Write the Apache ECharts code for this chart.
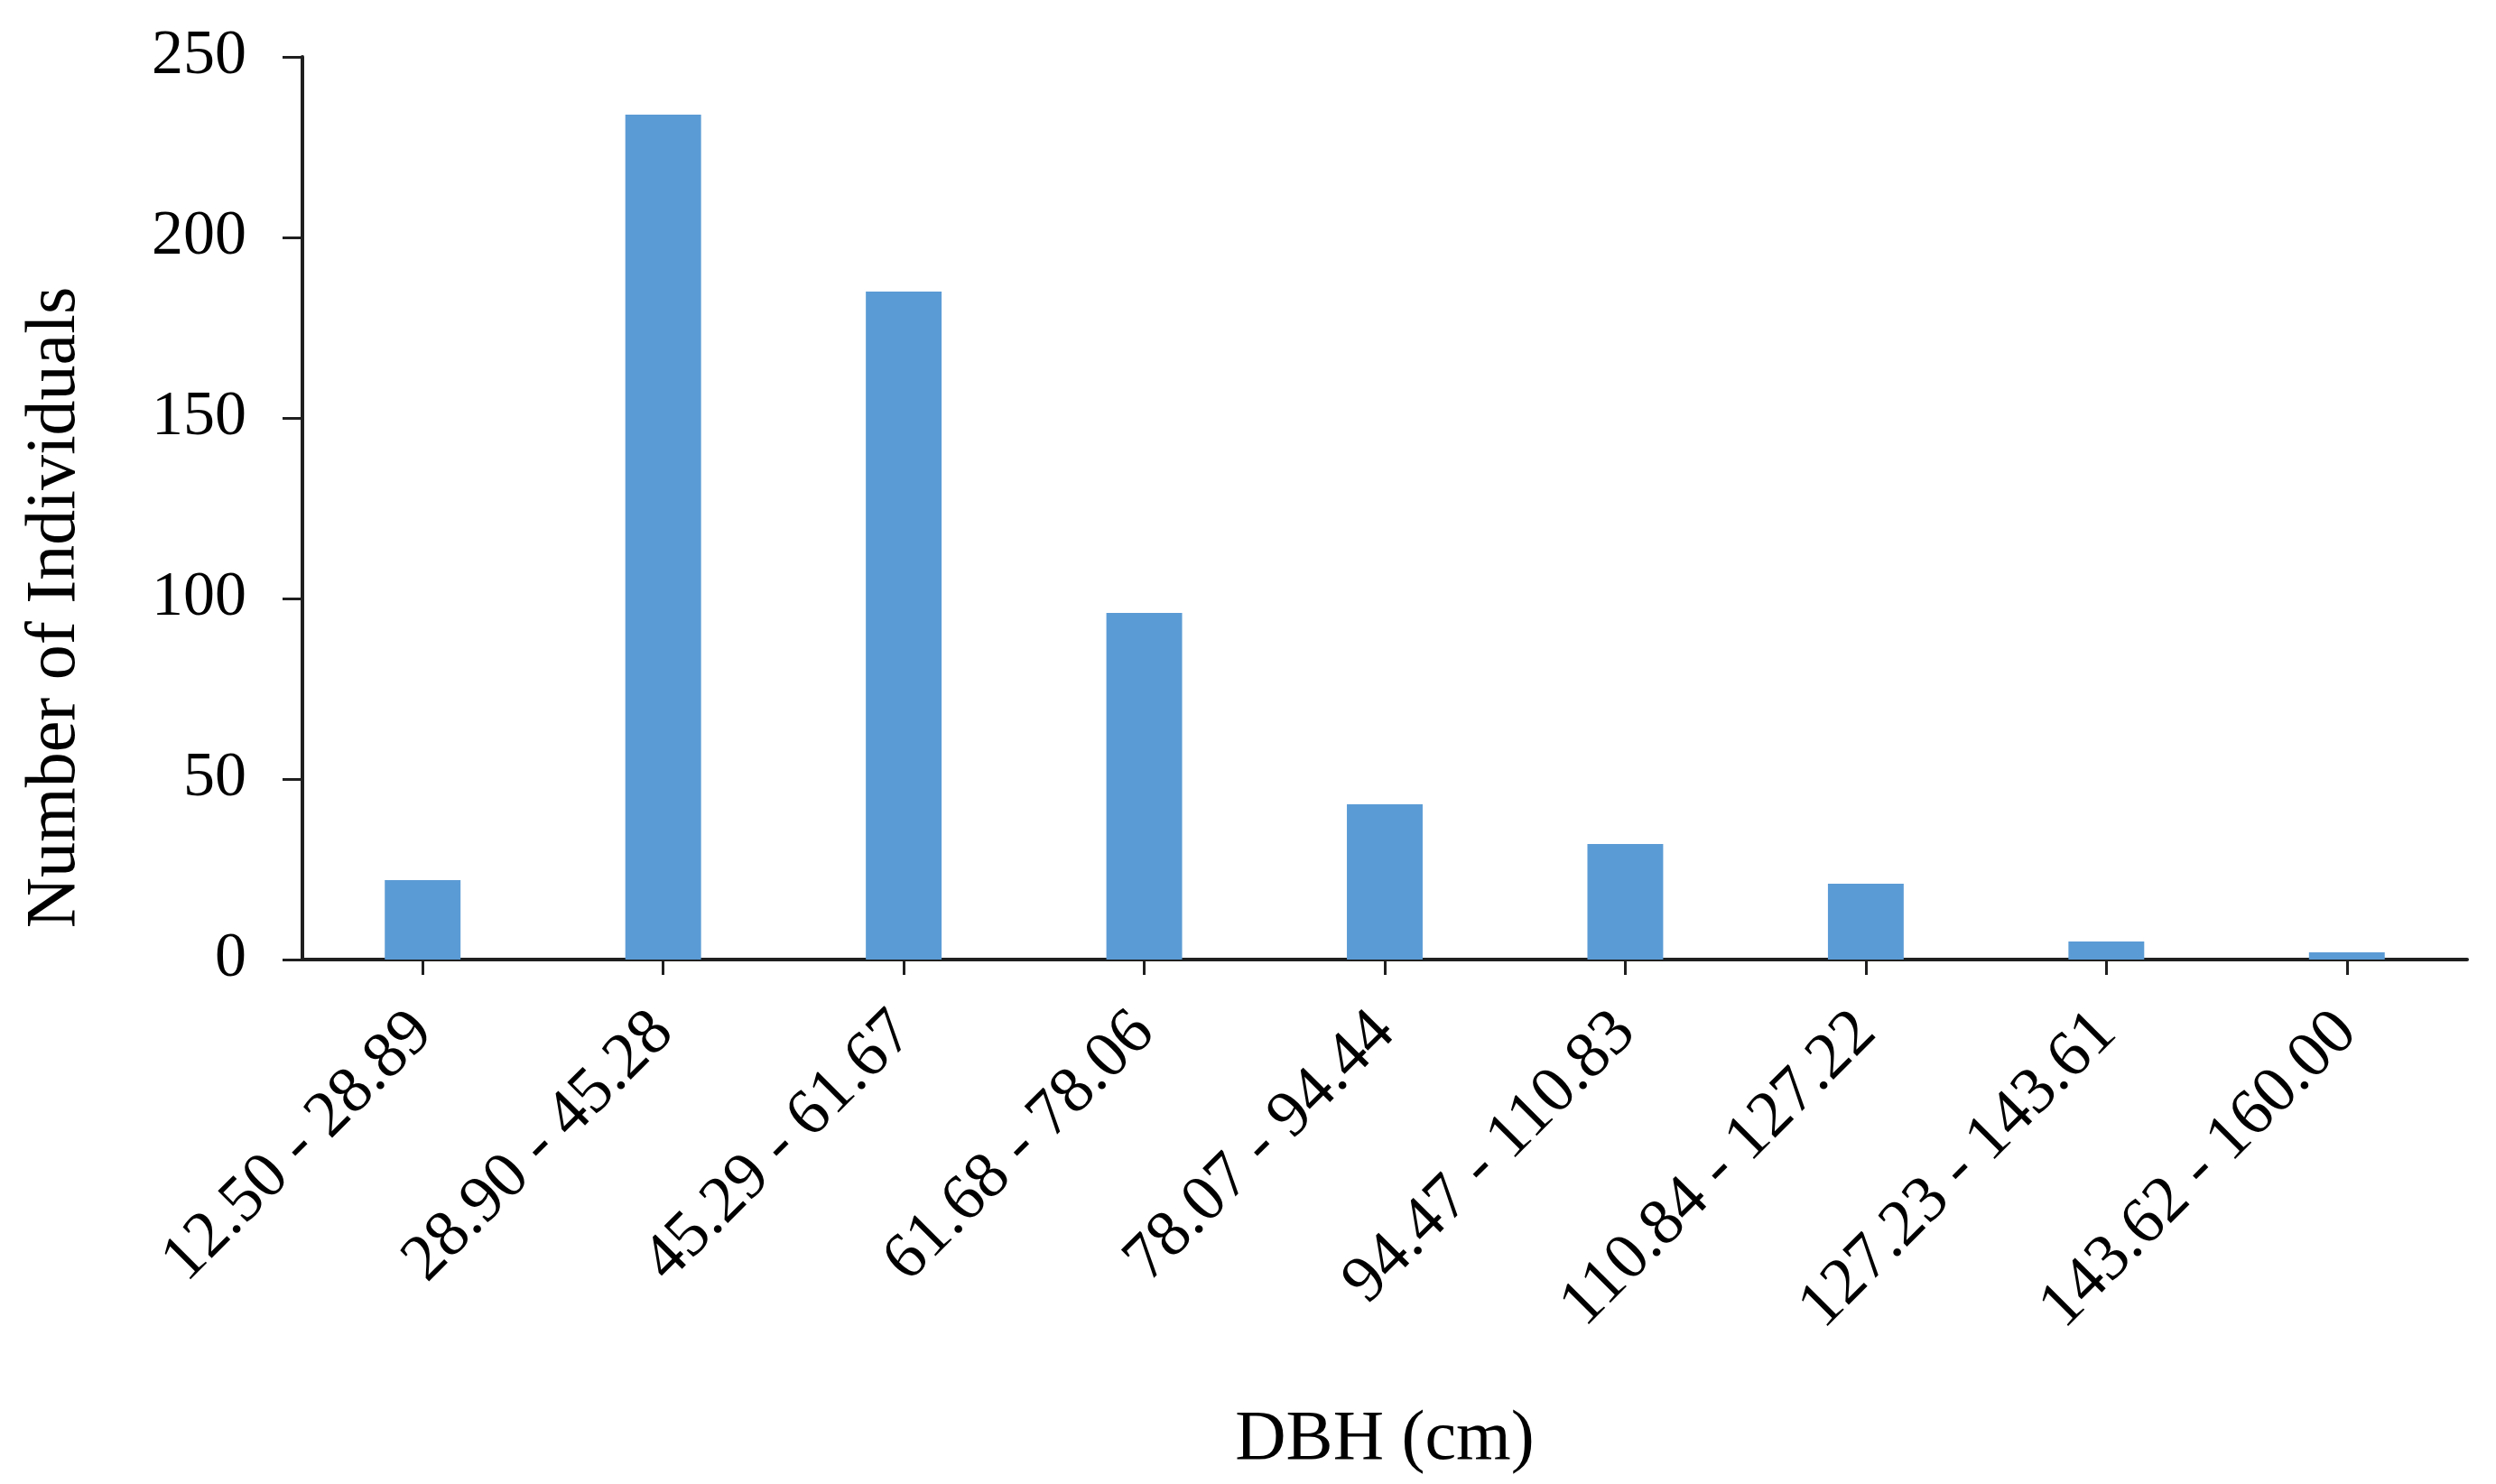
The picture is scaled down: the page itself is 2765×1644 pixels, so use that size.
<!DOCTYPE html>
<html>
<head>
<meta charset="utf-8">
<script src="https://cdn.jsdelivr.net/npm/echarts@6/dist/echarts.min.js"></script>
<style>
html,body{margin:0;padding:0;background:#fff;}
#chart{width:2765px;height:1644px;}
</style>
</head>
<body>
<div id="chart"></div>
<script>
const categories = ["12.50 - 28.89","28.90 - 45.28","45.29 - 61.67","61.68 - 78.06","78.07 - 94.44","94.47 - 110.83","110.84 - 127.22","127.23 - 143.61","143.62 - 160.00"];
const individuals = [22, 234, 185, 96, 43, 32, 21, 5, 2];
const yTicks = { min: 0, max: 250, interval: 50 };
const xTitle = "DBH (cm)";
const yTitle = "Number of Individuals";

const font = '"Liberation Serif", "Times New Roman", serif';
const chart = echarts.init(document.getElementById('chart'));
chart.setOption({
  backgroundColor: '#ffffff',
  animation: false,
  grid: { left: 335, right: 32, top: 63, bottom: 581 },
  xAxis: {
    type: 'category',
    data: categories,
    name: xTitle,
    nameLocation: 'middle',
    nameGap: 494,
    nameTextStyle: { fontFamily: font, fontSize: 78, color: '#000' },
    axisLine: { lineStyle: { color: '#1f1f1f', width: 4 } },
    axisTick: { show: true, alignWithLabel: true, length: 17, lineStyle: { color: '#1f1f1f', width: 3 } },
    axisLabel: { rotate: 45, margin: 70, fontFamily: font, fontSize: 73, color: '#000', interval: 0 }
  },
  yAxis: {
    type: 'value',
    min: yTicks.min, max: yTicks.max, interval: yTicks.interval,
    axisLine: { show: true, lineStyle: { color: '#1f1f1f', width: 4 } },
    axisTick: { show: true, length: 22, lineStyle: { color: '#1f1f1f', width: 3 } },
    splitLine: { show: false },
    axisLabel: { margin: 62, fontFamily: font, fontSize: 70, color: '#000' }
  },
  graphic: [{
    type: 'text',
    x: 62, y: 673,
    rotation: Math.PI / 2,
    style: { text: yTitle, fontFamily: font, fontSize: 78, fill: '#000', align: 'center', verticalAlign: 'middle' }
  }],
  series: [{
    type: 'bar',
    data: individuals,
    barWidth: '31.5%',
    itemStyle: { color: '#5B9BD5' }
  }]
});
</script>
</body>
</html>
